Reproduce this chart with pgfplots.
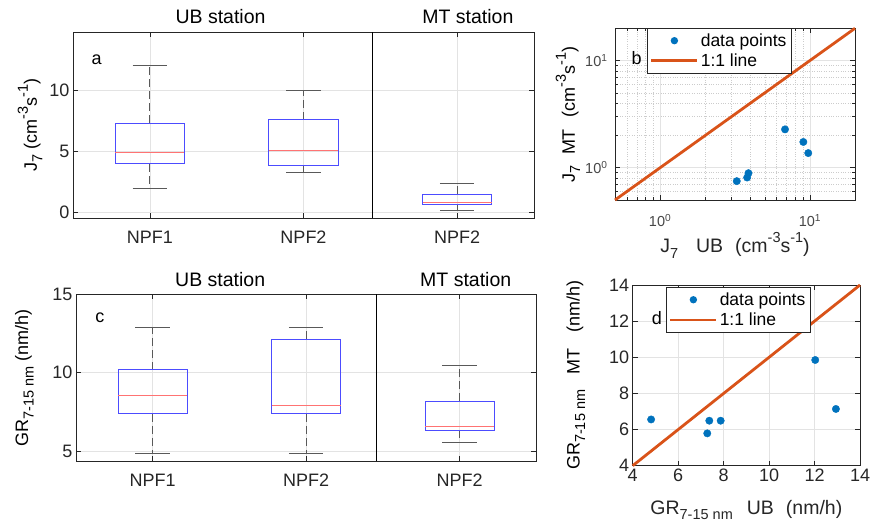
\documentclass[border=0pt]{standalone}
\usepackage{pgfplots}
\pgfplotsset{compat=1.18}
\usepgfplotslibrary{statistics}
\usepackage{fontspec}
\setmainfont{Liberation Sans}
\definecolor{mblue}{HTML}{0072BD}
\definecolor{morange}{HTML}{D95319}
\definecolor{axgray}{HTML}{262626}

\newcommand{\tickfont}{\fontsize{18}{21}\selectfont}
\newcommand{\labfont}{\fontsize{19.5}{23}\selectfont}
\newcommand{\sbs}[1]{\raisebox{-0.3em}{\fontsize{14.5}{15}\selectfont #1}}
\newcommand{\sps}[1]{\raisebox{0.5em}{\fontsize{14.5}{15}\selectfont #1}}

\pgfplotsset{
  base/.style={
    scale only axis,
    anchor=north west,
    font=\tickfont,
    tick label style={font=\tickfont, text=axgray},
    label style={font=\labfont, text=axgray},
    /pgf/number format/assume math mode=true,
    axis line style={axgray, line width=0.6pt},
    tick style={axgray, line width=0.6pt},
    tick align=inside,
    major tick length=5pt,
    minor tick length=3pt,
    grid=major,
    major grid style={gray!22, line width=0.6pt},
    clip=false,
    every axis y label/.style={rotate=90, anchor=center},
  },
  boxp/.style={
    base,
    xmin=0.5, xmax=3.5,
    xtick={1,2,3},
    xticklabels={NPF1,NPF2,NPF2},
    xticklabel style={yshift=-9pt},
    boxplot/draw direction=y,
    boxplot/box extend=0.45,
    boxplot/every box/.style={draw=blue!70, line width=1pt},
    boxplot/every median/.style={draw=red!55, line width=1pt},
    boxplot/draw/lower whisker/.code={
      \draw[black!65, line width=0.9pt, dash pattern=on 8pt off 4pt]
        (boxplot box cs:\pgfplotsboxplotvalue{lower quartile},0.5) --
        (boxplot box cs:\pgfplotsboxplotvalue{lower whisker},0.5);
      \draw[black!65, line width=0.9pt]
        (boxplot box cs:\pgfplotsboxplotvalue{lower whisker},0.25) --
        (boxplot box cs:\pgfplotsboxplotvalue{lower whisker},0.75);
    },
    boxplot/draw/upper whisker/.code={
      \draw[black!65, line width=0.9pt, dash pattern=on 8pt off 4pt]
        (boxplot box cs:\pgfplotsboxplotvalue{upper quartile},0.5) --
        (boxplot box cs:\pgfplotsboxplotvalue{upper whisker},0.5);
      \draw[black!65, line width=0.9pt]
        (boxplot box cs:\pgfplotsboxplotvalue{upper whisker},0.25) --
        (boxplot box cs:\pgfplotsboxplotvalue{upper whisker},0.75);
    },
  },
  scat/.style={
    legend style={draw=axgray, line width=0.6pt, fill=white,
      font=\fontsize{17.5}{20}\selectfont, inner xsep=3pt, inner ysep=3pt,
      row sep=2pt, cells={anchor=west}},
    legend cell align=left,
  },
  dotleg/.style={
    draw=none, mark=*, mark size=3.7pt,
    mark options={draw=mblue, fill=mblue},
    legend image code/.code={
      \path (0pt,0pt) -- (46pt,0pt);
      \fill[mblue] (23pt,0pt) circle[radius=3.7pt];}},
  lineleg/.style={legend image code/.code={
    \draw[##1] (0pt,0pt) -- (46pt,0pt);}},
}

\begin{document}
\begin{tikzpicture}
\path[use as bounding box] (0,0) rectangle (872pt,528pt);

% panel a
\begin{axis}[boxp, at={(73pt,495.7pt)}, width=461pt, height=186pt,
  ymin=-0.5, ymax=14.7, ytick={0,5,10},
  ylabel={J\sbs{7} (cm\sps{-3}s\sps{-1})},
  ylabel style={at={(axis description cs:-0.093,0.5)}}]
\addplot[boxplot prepared={draw position=1, lower whisker=1.90, lower quartile=3.94,
  median=4.91, upper quartile=7.28, upper whisker=12.03}] coordinates {};
\addplot[boxplot prepared={draw position=2, lower whisker=3.26, lower quartile=3.83,
  median=5.00, upper quartile=7.55, upper whisker=9.91}] coordinates {};
\addplot[boxplot prepared={draw position=3, lower whisker=0.16, lower quartile=0.62,
  median=0.82, upper quartile=1.47, upper whisker=2.31}] coordinates {};
\draw[black, line width=1.4pt] (axis cs:2.45,-0.5) -- (axis cs:2.45,14.7);
\node[font=\labfont, anchor=base] at (axis cs:1.46,14.7) [yshift=9pt] {UB station};
\node[font=\labfont, anchor=base] at (axis cs:3.07,14.7) [yshift=9pt] {MT station};
\node[font=\tickfont] at (rel axis cs:0.051,0.851) {a};
\end{axis}

% panel c
\begin{axis}[boxp, at={(76pt,233.7pt)}, width=460.3pt, height=167pt,
  ymin=4.36, ymax=15, ytick={5,10,15},
  ylabel={GR\sbs{7-15 nm} (nm/h)},
  ylabel style={at={(axis description cs:-0.112,0.5)}}]
\addplot[boxplot prepared={draw position=1, lower whisker=4.85, lower quartile=7.38,
  median=8.53, upper quartile=10.19, upper whisker=12.89}] coordinates {};
\addplot[boxplot prepared={draw position=2, lower whisker=4.85, lower quartile=7.38,
  median=7.89, upper quartile=12.15, upper whisker=12.89}] coordinates {};
\addplot[boxplot prepared={draw position=3, lower whisker=5.59, lower quartile=6.34,
  median=6.57, upper quartile=8.19, upper whisker=10.49}] coordinates {};
\draw[black, line width=1.4pt] (axis cs:2.46,4.36) -- (axis cs:2.46,15);
\node[font=\labfont, anchor=base] at (axis cs:1.44,15) [yshift=8pt] {UB station};
\node[font=\labfont, anchor=base] at (axis cs:3.04,15) [yshift=8pt] {MT station};
\node[font=\tickfont] at (rel axis cs:0.052,0.862) {c};
\end{axis}

% panel b
\begin{axis}[base, scat, at={(615pt,499.7pt)}, width=240pt, height=171.7pt,
  xmode=log, ymode=log, xmin=0.5, xmax=20, ymin=0.5, ymax=20,
  xtick={1,10}, ytick={1,10},
  minor xtick={0.5,0.6,0.7,0.8,0.9,2,3,4,5,6,7,8,9,20},
  minor ytick={0.5,0.6,0.7,0.8,0.9,2,3,4,5,6,7,8,9,20},
  xticklabels={10\textsuperscript{0},10\textsuperscript{1}},
  yticklabels={10\textsuperscript{0},10\textsuperscript{1}},
  tick label style={font=\fontsize{14.5}{16}\selectfont, text=axgray!85},
  xticklabel style={yshift=-11pt},
  yticklabel style={xshift=-4pt},
  grid=both, minor grid style={gray!40, dotted, line width=0.6pt},
  xlabel={J\sbs{7}\hspace{18pt}UB\hspace{12pt}(cm\sps{-3}s\sps{-1})},
  ylabel={J\sbs{7}\hspace{10pt}MT\hspace{12pt}(cm\sps{-3}s\sps{-1})},
  xlabel style={at={(axis description cs:0.5,-0.265)}, anchor=center},
  ylabel style={at={(axis description cs:-0.196,0.5)}},
  legend style={at={(rel axis cs:0.132,1)}, anchor=north west}]
\addplot[color=mblue, dotleg]
  coordinates {(3.25,0.75) (3.81,0.81) (3.89,0.89) (6.82,2.28) (9.04,1.74) (9.75,1.37)};
\addlegendentry{data points}
\addplot[morange, line width=2.8pt, lineleg] coordinates {(0.5,0.5) (20,20)};
\addlegendentry{1:1 line}
\node[font=\tickfont] at (rel axis cs:0.09,0.825) {b};
\end{axis}

% panel d
\begin{axis}[base, scat, at={(632.7pt,243pt)}, width=227.3pt, height=180.7pt,
  xmin=4, xmax=14, ymin=4, ymax=14,
  xtick={4,6,8,10,12,14}, ytick={4,6,8,10,12,14},
  xlabel={GR\sbs{7-15 nm}\hspace{14pt}UB\hspace{12pt}(nm/h)},
  ylabel={GR\sbs{7-15 nm}\hspace{15pt}MT\hspace{16pt}(nm/h)},
  xlabel style={at={(axis description cs:0.5,-0.245)}, anchor=center},
  ylabel style={at={(axis description cs:-0.25,0.5)}},
  legend style={at={(rel axis cs:0.145,0.987)}, anchor=north west}]
\addplot[color=mblue, dotleg]
  coordinates {(4.81,6.56) (7.28,5.79) (7.37,6.49) (7.87,6.49) (12.03,9.85) (12.94,7.14)};
\addlegendentry{data points}
\addplot[morange, line width=2.8pt, lineleg] coordinates {(4,4) (14,14)};
\addlegendentry{1:1 line}
\node[font=\tickfont] at (rel axis cs:0.106,0.816) {d};
\end{axis}
\end{tikzpicture}
\end{document}
